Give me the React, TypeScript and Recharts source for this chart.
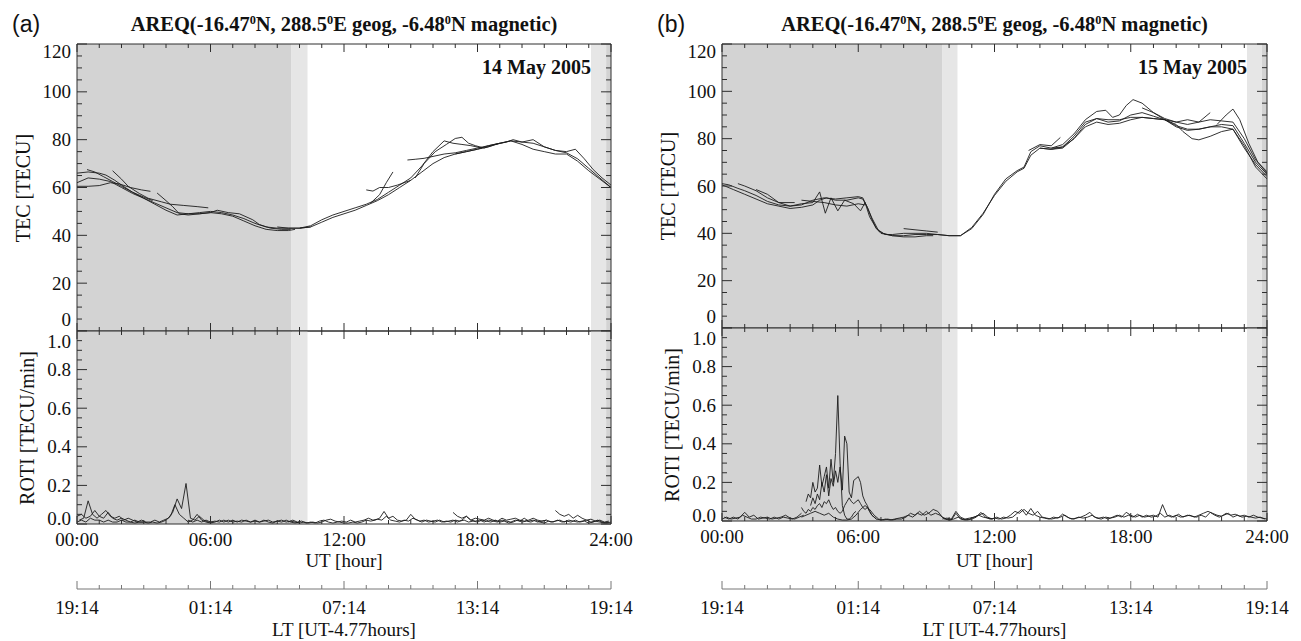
import React from "react";
import { ComposedChart, Line, XAxis, YAxis, ReferenceArea } from "recharts";

// tick labels
const utLabels = ["00:00", "06:00", "12:00", "18:00", "24:00"];
const ltLabels = ["19:14", "01:14", "07:14", "13:14", "19:14"];
const tecLabels = [0, 20, 40, 60, 80, 100, 120];
const rotiLabels = [0, 0.2, 0.4, 0.6, 0.8, 1.0];

// night / twilight shading, UT hours
const nightA = [[0, 9.64], [23.78, 24]];
const twilightA = [[9.64, 10.36], [23.1, 23.78]];
const nightB = [[0, 9.69], [23.78, 24]];
const twilightB = [[9.69, 10.37], [23.12, 23.78]];

// TEC tracks, 14 May 2005: [UT hour, TECU]
const tecA1 = [[0, 62], [0.5, 64], [1, 63.5], [1.5, 62.5], [2, 60], [2.5, 57.5], [3, 55.5], [3.5, 53.5], [4, 51.5], [4.5, 49.5], [5, 49], [5.5, 49.5], [6, 50], [6.5, 49.5], [7, 48.5], [7.5, 47], [8, 45], [8.5, 43.5], [9, 43], [9.5, 43], [10, 43], [10.5, 43.5]];
const tecA2 = [[0, 66], [0.5, 66.5], [1, 66], [1.3, 65.2], [1.7, 63], [2, 61], [2.5, 58], [3, 55.5], [3.5, 53], [4, 50.5], [4.5, 48.5], [5, 49], [5.5, 49], [6, 49.5], [6.5, 49], [7, 48], [7.5, 46], [8, 44], [8.5, 42.5], [9, 42], [9.5, 42], [9.8, 42.5]];
const tecA3 = [[0, 60.5], [0.5, 60.5], [1, 60.8], [1.5, 62], [1.9, 61.5], [2.4, 60], [2.9, 59], [3.3, 58.4]];
const tecA4 = [[0.45, 67.5], [0.8, 66.5], [1.2, 64.5], [1.6, 62.5], [2, 60.5], [2.5, 58], [3, 56], [3.4, 54.5]];
const tecA5 = [[1.6, 67], [2, 63.5], [2.3, 60.5], [2.8, 57.5], [3.2, 55.5], [3.8, 54], [4.2, 53], [4.8, 52.5], [5.4, 52], [5.9, 51.5]];
const tecA6 = [[3.6, 57.7], [4, 54.5], [4.3, 52], [4.6, 49], [5, 48.5], [5.5, 49], [6, 49.5], [6.3, 50.5], [6.8, 49.5], [7.3, 49], [7.9, 46.5], [8.2, 44.5], [8.7, 43], [9.2, 42.5], [9.6, 42.5]];
const tecA7 = [[9, 43.5], [9.5, 43], [10, 43], [10.5, 43.5], [11, 45.5], [11.5, 47.5], [12, 49], [12.5, 50.5], [13, 52.5], [13.5, 54.5], [14, 57], [14.5, 60], [15, 63], [15.5, 66.5], [16, 70], [16.5, 72.5], [17, 74], [17.5, 75], [18, 76], [18.5, 77.5], [19, 78.5]];
const tecA8 = [[10, 43], [10.5, 44], [11, 46.5], [11.5, 48.5], [12, 50], [12.5, 51.5], [13, 53], [13.5, 55], [14, 58], [14.5, 61], [15, 64], [15.5, 69], [16, 75], [16.5, 79.5], [16.9, 78.5], [17.3, 78], [17.7, 77.5], [18.2, 76.5]];
const tecA9 = [[15.2, 64], [15.6, 70], [16.1, 75], [16.6, 78], [17, 80.5], [17.3, 81], [17.6, 78.5], [17.9, 77.5], [18.3, 76.5], [18.8, 78], [19.3, 79], [19.6, 80], [20, 79], [20.5, 80], [21, 77], [21.5, 75.5], [22, 74.5], [22.5, 72], [23, 68], [23.5, 64], [24, 60]];
const tecA10 = [[13, 59], [13.3, 58.5], [13.6, 60], [14, 60], [14.4, 61], [14.7, 62], [15, 63]];
const tecA11 = [[13.2, 53.5], [13.6, 57], [13.9, 62], [14.2, 66.5]];
const tecA12 = [[14.85, 71.5], [15.2, 71.8], [15.6, 72.2], [16, 73], [16.5, 74], [17, 74.5], [17.5, 75.5], [18, 76.5], [18.5, 77.5], [19, 78.5], [19.5, 79.5], [20, 79], [20.5, 78.5], [21, 77], [21.5, 75.5], [22, 75], [22.4, 76], [22.8, 72], [23.2, 67.5], [23.6, 64], [24, 61]];
const tecA13 = [[17, 74], [17.5, 75], [18, 76], [18.5, 77], [19, 78.5], [19.5, 79.5], [20, 78], [20.5, 76], [21, 75], [21.5, 74], [22, 74], [22.5, 71], [23, 67], [23.5, 63.5], [24, 60]];

// TEC tracks, 15 May 2005
const tecB1 = [[0, 60.5], [0.5, 58.5], [1, 56.5], [1.5, 54.5], [2, 52.5], [2.5, 51.5], [3, 50.5], [3.5, 51], [4, 52], [4.3, 54], [4.6, 55], [5, 54], [5.5, 54], [6, 55], [6.2, 54.5], [6.4, 51], [6.6, 46], [6.8, 42], [7, 40], [7.5, 39], [8, 39], [8.5, 39.5], [9, 39.5], [9.5, 39.5], [10, 39], [10.5, 39], [11, 42], [11.5, 48], [12, 56.5], [12.5, 63], [13, 66.5], [13.3, 68], [13.6, 74.5], [14, 77], [14.5, 76], [15, 76.5], [15.5, 81], [16, 87], [16.5, 88.5], [17, 88], [17.5, 88], [18, 89], [18.5, 89], [19, 88.5], [19.5, 88], [20, 85.5], [20.5, 84], [21, 84], [21.5, 85], [22, 86], [22.5, 85.5], [23, 78], [23.5, 70], [24, 65]];
const tecB2 = [[0, 61], [0.3, 60.5], [0.7, 59], [1, 58], [1.5, 56], [2, 53.5], [2.5, 52], [3, 51.5], [3.5, 52.5], [4, 53], [4.3, 57.5], [4.55, 48.5], [4.8, 55], [5.1, 49.5], [5.4, 54], [5.8, 52.5], [6.1, 49.5], [6.3, 53], [6.5, 47], [6.8, 42], [7.1, 40], [7.5, 39], [8, 38.5], [8.5, 38.5], [9, 39], [9.3, 39]];
const tecB3 = [[0.7, 61], [1, 60], [1.5, 58], [2, 55], [2.5, 53], [3.2, 53]];
const tecB4 = [[1.5, 58.5], [2, 56.5], [2.5, 53], [3, 51.5], [3.5, 52], [4, 54], [4.5, 55], [5, 54.5], [5.5, 55], [6, 55.5], [6.2, 55], [6.4, 51], [6.6, 46.5], [6.9, 41], [7.2, 39.5], [7.5, 39.5], [8, 40], [8.5, 40], [9, 40], [9.5, 39.5], [10, 39], [10.5, 39], [11, 42.5], [11.5, 48.5], [12, 56], [12.5, 62], [13, 66], [13.3, 67.5], [13.6, 73], [14, 76], [14.5, 75.5], [15, 76.5], [15.5, 80], [16, 85]];
const tecB5 = [[8, 42], [8.5, 41.5], [9, 41], [9.5, 40.5]];
const tecB6 = [[3.5, 54], [4, 53.5], [4.5, 53], [5, 52], [5.5, 51.5], [6, 52.5], [6.3, 52]];
const tecB7 = [[13.5, 75], [14, 77.5], [14.5, 77], [14.9, 80.5]];
const tecB8 = [[14.5, 76], [15, 77.5], [15.5, 82], [16, 88], [16.5, 91.5], [16.9, 92], [17.2, 89], [17.5, 90], [17.8, 94], [18.1, 96.5], [18.5, 95], [19, 91], [19.5, 88], [20, 86], [20.3, 83], [20.7, 80], [21, 79.5], [21.5, 81], [22, 83], [22.5, 84], [23, 76], [23.5, 69], [24, 64]];
const tecB9 = [[14, 76], [14.5, 75.5], [15, 76], [15.5, 80], [16, 86], [16.5, 88.5], [17, 87], [17.5, 87.5], [18, 90], [18.5, 91], [19, 89.5], [19.5, 88], [20, 87], [20.5, 86], [21, 87], [21.5, 88], [22, 87.5], [22.5, 87], [23, 80], [23.5, 71], [24, 66]];
const tecB10 = [[16, 85], [16.5, 87], [17, 86], [17.5, 86.5], [18, 88], [18.5, 89], [19, 88.5], [19.5, 88], [20, 85], [20.5, 83.5], [21, 84], [21.5, 85], [22, 85], [22.5, 84], [23, 77], [23.5, 68], [24, 63]];
const tecB11 = [[18.5, 93], [19, 91], [19.5, 88.5], [20, 87], [20.5, 88], [21, 87], [21.5, 91]];
const tecB12 = [[21.8, 86], [22.2, 90], [22.5, 92.5], [22.8, 88], [23.2, 78], [23.6, 70], [24, 65.5]];

// ROTI tracks [TECU/min], each sampled from a start hour at a fixed step
const rotiA1 = [0.04, 0.05, 0.03, 0.04, 0.07, 0.04, 0.03, 0.06, 0.03, 0.02, 0.03, 0.02, 0.01, 0.02, 0.01, 0.01, 0.005, 0.01, 0.005, 0.01, 0.02, 0.04, 0.10, 0.05, 0.03, 0.01, 0.02, 0.05, 0.02, 0.01, 0.005, 0.01, 0.02, 0.01, 0.02, 0.01, 0.015, 0.01, 0.02, 0.01, 0.015, 0.01, 0.02, 0.01, 0.005, 0.015, 0.01, 0.02, 0.01, 0.005, 0.01];
const rotiA2 = [0.02, 0.03, 0.12, 0.05, 0.03, 0.05, 0.07, 0.04, 0.03, 0.04, 0.02, 0.03, 0.02, 0.01, 0.02, 0.01, 0.01, 0.02, 0.01, 0.02, 0.03, 0.06, 0.13, 0.08, 0.21, 0.03, 0.02, 0.04, 0.02, 0.01, 0.01];
const rotiA3 = [0.01, 0.02, 0.01, 0.03, 0.02, 0.02, 0.01, 0.02, 0.01, 0.01, 0.02, 0.01, 0.01, 0.005, 0.01, 0.01];
const rotiA4 = [0.02, 0.01, 0.02, 0.01, 0.02, 0.01, 0.015, 0.01, 0.02, 0.01, 0.02, 0.01, 0.02, 0.015, 0.01, 0.02, 0.01, 0.015, 0.02, 0.01, 0.015, 0.02, 0.01, 0.015, 0.01, 0.005, 0.01, 0.005, 0.01, 0.005, 0.01, 0.02, 0.025, 0.015, 0.01, 0.005, 0.005, 0.01, 0.005, 0.01, 0.02, 0.015, 0.02, 0.03, 0.065, 0.03, 0.04, 0.02, 0.015, 0.02, 0.05, 0.025, 0.015, 0.02, 0.01, 0.015, 0.02, 0.01, 0.015, 0.01, 0.02, 0.015, 0.02, 0.01, 0.015, 0.01];
const rotiA5 = [0.01, 0.02, 0.01, 0.015, 0.005, 0.01, 0.005, 0.015, 0.02, 0.01, 0.005, 0.01, 0.015, 0.01, 0.02, 0.01, 0.015, 0.02, 0.03, 0.02, 0.025, 0.02, 0.04, 0.02, 0.015, 0.01, 0.02, 0.015, 0.03, 0.02, 0.01, 0.02, 0.015, 0.01, 0.02, 0.01, 0.015, 0.02, 0.01, 0.02, 0.04, 0.02, 0.015, 0.02, 0.01, 0.02, 0.015, 0.01, 0.02, 0.015, 0.01, 0.02, 0.015, 0.03, 0.015, 0.02, 0.01, 0.015, 0.02, 0.01, 0.015, 0.02, 0.01, 0.02, 0.015, 0.01, 0.015, 0.02, 0.01, 0.015, 0.01, 0.005, 0.01];
const rotiA6 = [0.06, 0.04, 0.03, 0.04, 0.02, 0.03, 0.025, 0.02, 0.03, 0.02, 0.015, 0.03, 0.02, 0.025, 0.03, 0.02, 0.015, 0.02, 0.03, 0.02, 0.015, 0.02];
const rotiA7 = [0.07, 0.05, 0.04, 0.05, 0.03, 0.045, 0.03, 0.02, 0.025, 0.015, 0.02, 0.01, 0.015];
const rotiA8 = [0.01, 0.02, 0.015, 0.01, 0.02, 0.01, 0.015, 0.005, 0.01, 0.02, 0.01, 0.015, 0.01, 0.02, 0.01, 0.005, 0.015, 0.01, 0.02, 0.01, 0.015, 0.01, 0.02, 0.01, 0.015, 0.005, 0.01, 0.02, 0.01, 0.005, 0.01];

const rotiB1 = [0.01, 0.02, 0.01, 0.015, 0.02, 0.045, 0.02, 0.03, 0.01, 0.015, 0.02, 0.01, 0.015, 0.02, 0.03, 0.015, 0.01, 0.02, 0.03];
const rotiB2 = [0.02, 0.01, 0.02, 0.01, 0.03, 0.02, 0.01, 0.01, 0.02, 0.015, 0.01, 0.02, 0.01, 0.02, 0.015, 0.01, 0.02, 0.04];
const rotiB3 = [0.10, 0.14, 0.12, 0.20, 0.15, 0.17, 0.29, 0.18, 0.23, 0.28, 0.17, 0.32, 0.20, 0.35, 0.65, 0.30, 0.08, 0.03, 0.01, 0.01, 0.02, 0.04, 0.05];
const rotiB4 = [0.08, 0.12, 0.09, 0.14, 0.11, 0.20, 0.15, 0.24, 0.13, 0.22, 0.18, 0.26, 0.20, 0.28, 0.16, 0.44, 0.40, 0.15, 0.12, 0.21, 0.22, 0.23, 0.20, 0.13, 0.10, 0.08, 0.05, 0.03, 0.02, 0.01];
const rotiB5 = [0.07, 0.05, 0.04, 0.06, 0.05, 0.07, 0.06, 0.08, 0.09, 0.07, 0.10, 0.09, 0.11, 0.08, 0.06, 0.07, 0.05, 0.04, 0.05, 0.08, 0.10, 0.12, 0.10, 0.09, 0.10, 0.11, 0.09, 0.07, 0.06, 0.07, 0.05, 0.03, 0.02, 0.01];
const rotiB6 = [0.02, 0.03, 0.04, 0.05, 0.04, 0.03, 0.04, 0.02, 0.01, 0.005, 0.005, 0.01, 0.03, 0.06, 0.08, 0.06, 0.03, 0.01, 0.005, 0.01, 0.005, 0.01, 0.01, 0.02, 0.04, 0.03, 0.05, 0.03, 0.04, 0.06, 0.05, 0.02, 0.01, 0.005, 0.04, 0.01, 0.005, 0.01, 0.02, 0.03, 0.04, 0.02, 0.01];
const rotiB7 = [0.01, 0.005, 0.01, 0.005, 0.01, 0.015, 0.02, 0.03, 0.02, 0.04, 0.03, 0.05, 0.03, 0.04, 0.03, 0.01, 0.005, 0.01, 0.02, 0.01, 0.005, 0.01, 0.02, 0.045, 0.02, 0.01, 0.015, 0.01, 0.02, 0.015, 0.02, 0.04, 0.06, 0.03, 0.065, 0.03, 0.02, 0.015, 0.01, 0.02, 0.015, 0.036, 0.02, 0.01, 0.015, 0.02, 0.03, 0.045, 0.02, 0.015, 0.02, 0.01, 0.02, 0.03, 0.02, 0.045, 0.03, 0.02, 0.03, 0.02, 0.025, 0.03, 0.02, 0.085, 0.03, 0.02, 0.03, 0.02, 0.025, 0.03, 0.02, 0.03, 0.04, 0.05, 0.04, 0.03, 0.025, 0.04, 0.03, 0.035, 0.025, 0.03, 0.02, 0.03, 0.02, 0.015, 0.01];
const rotiB8 = [0.01, 0.015, 0.01, 0.05, 0.02, 0.01, 0.015, 0.02, 0.03, 0.02, 0.015, 0.01, 0.02, 0.01, 0.015, 0.03, 0.05, 0.04, 0.06, 0.04, 0.03, 0.05, 0.02, 0.015, 0.01, 0.015, 0.02, 0.03, 0.015, 0.01, 0.02, 0.015, 0.02, 0.03, 0.015, 0.01, 0.02, 0.015, 0.02, 0.03, 0.02, 0.03, 0.02, 0.035, 0.02, 0.03, 0.02, 0.025, 0.04, 0.02, 0.03, 0.02, 0.035, 0.02, 0.03, 0.025, 0.02, 0.03, 0.02, 0.045, 0.03, 0.02, 0.03, 0.04, 0.02, 0.03, 0.02, 0.025, 0.02, 0.015, 0.02, 0.01];

const pairs = (p: number[][]) => p.map(([h, v]) => ({ h, v }));
const track = (start: number, step: number, vals: number[]) =>
  vals.map((v, i) => ({ h: Math.round((start + i * step) * 100) / 100, v }));

const tecA = [tecA1, tecA2, tecA3, tecA4, tecA5, tecA6, tecA7, tecA8, tecA9, tecA10, tecA11, tecA12, tecA13].map(pairs);
const tecB = [tecB1, tecB2, tecB3, tecB4, tecB5, tecB6, tecB7, tecB8, tecB9, tecB10, tecB11, tecB12].map(pairs);
const rotiA = [
  track(0, 0.2, rotiA1), track(0.1, 0.2, rotiA2), track(0, 0.2, rotiA3), track(5, 0.2, rotiA4),
  track(9.5, 0.2, rotiA5), track(16.9, 0.2, rotiA6), track(21.5, 0.2, rotiA7), track(18, 0.2, rotiA8),
];
const rotiB = [
  track(0, 0.2, rotiB1), track(0.1, 0.2, rotiB2), track(3.7, 0.1, rotiB3), track(3.9, 0.1, rotiB4),
  track(3.5, 0.1, rotiB5), track(3.5, 0.2, rotiB6), track(6.8, 0.2, rotiB7), track(9.7, 0.2, rotiB8),
];

const FONT = '"Liberation Serif", "Times New Roman", serif';
const AX = "#2e2e2e";
const TRACE = "#1c1c1c";
const NIGHT = "#d3d3d3";
const TWILIGHT = "#e6e6e6";
const W = 650;
const H = 641;
const LT_Y = 589;

const hourTicks = Array.from({ length: 25 }, (_, i) => i);
const tecTicks = Array.from({ length: 25 }, (_, i) => i * 5);
const rotiTicks = Array.from({ length: 21 }, (_, i) => (i * 5) / 100);

function HourTick({ x, y, payload, dir, labels, dy = 22, color = AX }: any) {
  const h = payload.value;
  const major = h % 6 === 0;
  const len = major ? 8 : 4;
  return (
    <g>
      <line x1={x} x2={x} y1={y} y2={y + dir * len} stroke={color} strokeWidth={1} />
      {labels && major && (
        <text x={x} y={y + dy} textAnchor="middle" fontSize={19} fontFamily={FONT} fill="#111">
          {labels[h / 6]}
        </text>
      )}
    </g>
  );
}

// end labels sit inside the frame, like the IDL original
function ValTick({ x, y, payload, dir, labels, fmt, min, max, dyMin, dyMax }: any) {
  const v = payload.value;
  const major = labels.some((l: number) => Math.abs(l - v) < 1e-6);
  const len = major ? 10 : 5;
  let dy = 6.5;
  if (Math.abs(v - max) < 1e-6) dy = dyMax;
  if (Math.abs(v - min) < 1e-6) dy = dyMin;
  return (
    <g>
      <line x1={x} x2={x + dir * len} y1={y} y2={y} stroke={AX} strokeWidth={1} />
      {fmt && major && (
        <text x={x - 6} y={y + dy} textAnchor="end" fontSize={19} fontFamily={FONT} fill="#111">
          {fmt(v)}
        </text>
      )}
    </g>
  );
}

function Txt({ x, y, children, style, rotate }: any) {
  return (
    <div
      style={{
        position: "absolute",
        left: x,
        top: y,
        transform: `translate(-50%, -50%)${rotate ? " rotate(-90deg)" : ""}`,
        whiteSpace: "nowrap",
        fontFamily: FONT,
        fontSize: 19,
        lineHeight: "20px",
        color: "#111",
        ...style,
      }}
    >
      {children}
    </div>
  );
}

const Sup = () => (
  <span style={{ fontSize: "0.6em", position: "relative", top: "-0.6em" }}>0</span>
);

function Panel({ cfg }: any) {
  const { x0, plotL, plotR, top, mid, bot, tag, date, tec, roti, night, twilight } = cfg;
  const cx = (plotL + plotR) / 2;
  const areas = [
    ...night.map(([a, b]: number[]) => (
      <ReferenceArea key={"n" + a} x1={a} x2={b} fill={NIGHT} fillOpacity={1} stroke="none" ifOverflow="hidden" />
    )),
    ...twilight.map(([a, b]: number[]) => (
      <ReferenceArea key={"t" + a} x1={a} x2={b} fill={TWILIGHT} fillOpacity={1} stroke="none" ifOverflow="hidden" />
    )),
  ];
  // axes are 1px thick so that Recharts draws them; margins make up the rest
  const xCommon = {
    dataKey: "h",
    type: "number" as const,
    domain: [0, 24],
    ticks: hourTicks,
    interval: 0,
    allowDataOverflow: true,
    tickSize: 0,
    tickMargin: 0,
    tickLine: false,
    stroke: AX,
  };
  const yCommon = {
    type: "number" as const,
    interval: 0,
    allowDataOverflow: true,
    width: 1,
    tickSize: 0,
    tickMargin: 0,
    tickLine: false,
    stroke: AX,
  };
  return (
    <div style={{ position: "absolute", left: x0, top: 0, width: W, height: H }}>
      <div style={{ position: "absolute", left: 0, top: 0 }}>
        <ComposedChart width={W} height={H} margin={{ top: top - 1, left: plotL - 1, right: W - plotR - 1, bottom: H - mid - 1 }}>
          {areas}
          {tec.map((d: any, i: number) => (
            <Line key={i} data={d} dataKey="v" type="linear" dot={false} activeDot={false} stroke={TRACE} strokeWidth={0.9} isAnimationActive={false} />
          ))}
          <XAxis {...xCommon} height={1} tick={(t: any) => <HourTick {...t} dir={-1} />} />
          <XAxis {...xCommon} xAxisId="top" orientation="top" height={1} tick={(t: any) => <HourTick {...t} dir={1} />} />
          <YAxis {...yCommon} domain={[0, 120]} ticks={tecTicks}
            tick={(t: any) => <ValTick {...t} dir={1} labels={tecLabels} fmt={(v: number) => String(v)} min={0} max={120} dyMin={-5} dyMax={14} />} />
          <YAxis {...yCommon} yAxisId="r" orientation="right" domain={[0, 120]} ticks={tecTicks}
            tick={(t: any) => <ValTick {...t} dir={-1} labels={tecLabels} min={0} max={120} />} />
        </ComposedChart>
      </div>
      <div style={{ position: "absolute", left: 0, top: 0 }}>
        <ComposedChart width={W} height={H} margin={{ top: mid - 1, left: plotL - 1, right: W - plotR - 1, bottom: H - LT_Y - 1 }}>
          {areas}
          {roti.map((d: any, i: number) => (
            <Line key={i} data={d} dataKey="v" type="linear" dot={false} activeDot={false} stroke={TRACE} strokeWidth={0.9} isAnimationActive={false} />
          ))}
          <XAxis {...xCommon} height={LT_Y - bot} tick={(t: any) => <HourTick {...t} dir={-1} labels={utLabels} dy={22} />} />
          <XAxis {...xCommon} xAxisId="lt" height={1} stroke="#777"
            tick={(t: any) => <HourTick {...t} dir={-1} labels={ltLabels} dy={25} color="#777" />} />
          <XAxis {...xCommon} xAxisId="top" orientation="top" height={1} tick={(t: any) => <HourTick {...t} dir={1} />} />
          <YAxis {...yCommon} domain={[0, 1]} ticks={rotiTicks}
            tick={(t: any) => <ValTick {...t} dir={1} labels={rotiLabels} fmt={(v: number) => v.toFixed(1)} min={0} max={1} dyMin={1} dyMax={16.5} />} />
          <YAxis {...yCommon} yAxisId="r" orientation="right" domain={[0, 1]} ticks={rotiTicks}
            tick={(t: any) => <ValTick {...t} dir={-1} labels={rotiLabels} min={0} max={1} />} />
        </ComposedChart>
      </div>

      <div style={{ position: "absolute", left: 12, top: 12, fontFamily: '"Liberation Sans", Arial, sans-serif', fontSize: 23, lineHeight: "24px", color: "#111" }}>
        {tag}
      </div>
      <Txt x={cx} y={25} style={{ fontWeight: "bold", fontSize: 20.5 }}>
        AREQ(-16.47<Sup />N, 288.5<Sup />E geog, -6.48<Sup />N magnetic)
      </Txt>
      <div style={{ position: "absolute", right: W - plotR + 20, top: 57, fontFamily: FONT, fontWeight: "bold", fontSize: 20, lineHeight: "20px", color: "#111", whiteSpace: "nowrap" }}>
        {date}
      </div>
      <Txt x={23} y={(top + mid) / 2} rotate style={{ fontSize: 20 }}>TEC [TECU]</Txt>
      <Txt x={27} y={(mid + bot) / 2} rotate style={{ fontSize: 20 }}>ROTI [TECU/min]</Txt>
      <Txt x={cx} y={561}>UT [hour]</Txt>
      <Txt x={cx} y={630}>LT [UT-4.77hours]</Txt>
    </div>
  );
}

const panelA = { x0: 0, plotL: 77, plotR: 611, top: 44, mid: 331, bot: 524, tag: "(a)", date: "14 May 2005", tec: tecA, roti: rotiA, night: nightA, twilight: twilightA };
const panelB = { x0: 645, plotL: 77, plotR: 622, top: 44, mid: 328, bot: 521, tag: "(b)", date: "15 May 2005", tec: tecB, roti: rotiB, night: nightB, twilight: twilightB };

export default function App() {
  return (
    <div style={{ position: "absolute", left: 0, top: 0, width: 1301, height: 641, background: "#fff", overflow: "hidden" }}>
      <Panel cfg={panelA} />
      <Panel cfg={panelB} />
    </div>
  );
}
